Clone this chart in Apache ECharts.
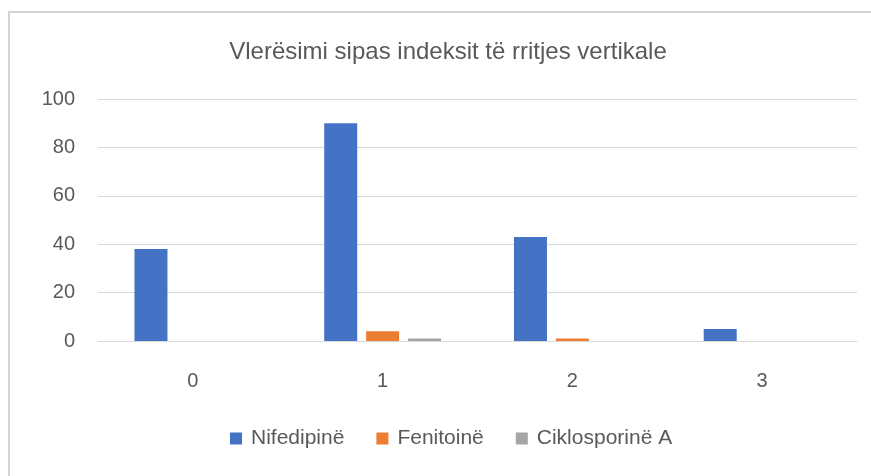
<!DOCTYPE html>
<html>
<head>
<meta charset="utf-8">
<script src="https://cdn.jsdelivr.net/npm/echarts@6/dist/echarts.min.js"></script>
<style>
  html, body { margin: 0; padding: 0; background: #fff; }
  #frame {
    position: absolute;
    left: 8px;
    top: 11px;
    width: 880px;
    height: 480px;
    border-left: 2px solid #d4d4d4;
    border-top: 2px solid #d4d4d4;
  }
  #chart { position: absolute; left: 0; top: 0; width: 871px; height: 476px; }
</style>
</head>
<body>
<div id="frame"></div>
<div id="chart"></div>
<script>
const categories = ['0', '1', '2', '3']
const nifedipine = [38, 90, 43, 5]
const fenitoine = [0, 4, 1, 0]
const ciklosporine = [0, 1, 0, 0]

const chart = echarts.init(document.getElementById('chart'))

const labelFont = 'Liberation Sans, DejaVu Sans, sans-serif'

const option = {
  animation: false,
  title: {
    text: 'Vlerësimi sipas indeksit të rritjes vertikale',
    left: 443,
    textAlign: 'center',
    top: 35,
    textStyle: {
      fontSize: 24,
      fontWeight: 'normal',
      color: '#595959',
      fontFamily: labelFont
    }
  },
  legend: {
    bottom: 22,
    left: 225,
    itemWidth: 12,
    itemHeight: 12,
    itemGap: 32,
    icon: 'rect',
    textStyle: { fontSize: 21, color: '#595959', fontFamily: labelFont, padding: [0, 0, 0, 4] }
  },
  grid: {
    left: 98,
    right: 14,
    top: 99,
    bottom: 135
  },
  xAxis: {
    type: 'category',
    data: categories,
    axisTick: { show: false },
    axisLine: { lineStyle: { color: '#d9d9d9', width: 1 } },
    axisLabel: { fontSize: 20, color: '#595959', margin: 30, fontFamily: labelFont }
  },
  yAxis: {
    type: 'value',
    min: 0,
    max: 100,
    interval: 20,
    axisLine: { show: false },
    axisTick: { show: false },
    splitLine: { lineStyle: { color: '#d9d9d9', width: 1 } },
    axisLabel: { fontSize: 20, color: '#595959', margin: 23, fontFamily: labelFont }
  },
  series: [
    {
      name: 'Nifedipinë',
      type: 'bar',
      data: nifedipine,
      barWidth: 33,
      barGap: '27%',
      itemStyle: { color: '#4472c4' }
    },
    {
      name: 'Fenitoinë',
      type: 'bar',
      data: fenitoine,
      barWidth: 33,
      barGap: '27%',
      itemStyle: { color: '#ed7d31' }
    },
    {
      name: 'Ciklosporinë A',
      type: 'bar',
      data: ciklosporine,
      barWidth: 33,
      barGap: '27%',
      itemStyle: { color: '#a5a5a5' }
    }
  ]
}

chart.setOption(option)
</script>
</body>
</html>
